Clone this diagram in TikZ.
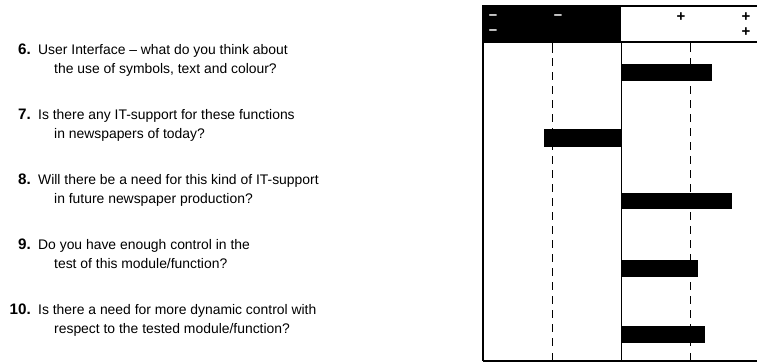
\documentclass[tikz,border=0pt]{standalone}
\usepackage{fontspec}
\setmainfont{Liberation Sans}
\begin{document}
\begin{tikzpicture}[x=1pt,y=-1pt,
  num/.style={anchor=mid east,inner sep=0pt,font=\fontsize{15.2}{16}\selectfont\bfseries},
  qtext/.style={anchor=mid west,inner sep=0pt,font=\fontsize{13.9}{16}\selectfont},
  bar/.style={fill=black,draw=none},
  frame/.style={line width=1.4pt},
  axis/.style={line width=0.9pt},
  dashline/.style={line width=0.9pt,dash pattern=on 8pt off 6pt},
  sym/.style={inner sep=0pt,font=\fontsize{15}{15}\selectfont\bfseries}]
\useasboundingbox (0,0) rectangle (757,362);
% questions
\node[num] (n6) at (31,52) {6.};
\node[qtext] (q6a) at (38,52) {User Interface -- what do you think about};
\node[qtext] (q6b) at (54,71) {the use of symbols, text and colour?};
\node[num] (n7) at (31,117) {7.};
\node[qtext] (q7a) at (38,117) {Is there any IT-support for these functions};
\node[qtext] (q7b) at (54,136) {in newspapers of today?};
\node[num] (n8) at (31,182) {8.};
\node[qtext] (q8a) at (38,182) {Will there be a need for this kind of IT-support};
\node[qtext] (q8b) at (54,201) {in future newspaper production?};
\node[num] (n9) at (31,247) {9.};
\node[qtext] (q9a) at (38,247) {Do you have enough control in the};
\node[qtext] (q9b) at (54,266) {test of this module/function?};
\node[num] (n10) at (31,312) {10.};
\node[qtext] (q10a) at (38,312) {Is there a need for more dynamic control with};
\node[qtext] (q10b) at (54,331) {respect to the tested module/function?};
% chart header
\fill[black] (483,6) rectangle (621,42);
\draw[frame] (483,361) -- (483,6) -- (760,6);
\draw[frame] (483,42) -- (760,42);
\draw[frame] (483,361) -- (760,361);
\node[sym,text=white] (m1) at (493,17) {--};
\node[sym,text=white] (m2) at (493,32) {--};
\node[sym,text=white] (m3) at (558,17) {--};
\node[sym] (p1) at (681,17) {+};
\node[sym] (p2) at (746,17) {+};
\node[sym] (p3) at (746,32) {+};
% axes
\draw[axis] (621,42) -- (621,361);
\draw[axis] (552,42) -- (552,53);
\draw[axis] (690,42) -- (690,52);
\draw[dashline] (552,58) -- (552,350);
\draw[dashline] (690,58) -- (690,350);
\draw[axis] (552,353) -- (552,361);
\draw[axis] (690,353) -- (690,361);
% bars
\fill[bar] (621,64) rectangle (712,81);
\fill[bar] (544,129) rectangle (621,147);
\fill[bar] (621,193) rectangle (732,209);
\fill[bar] (621,260) rectangle (698,277);
\fill[bar] (621,326) rectangle (705,343);
\end{tikzpicture}
\end{document}
